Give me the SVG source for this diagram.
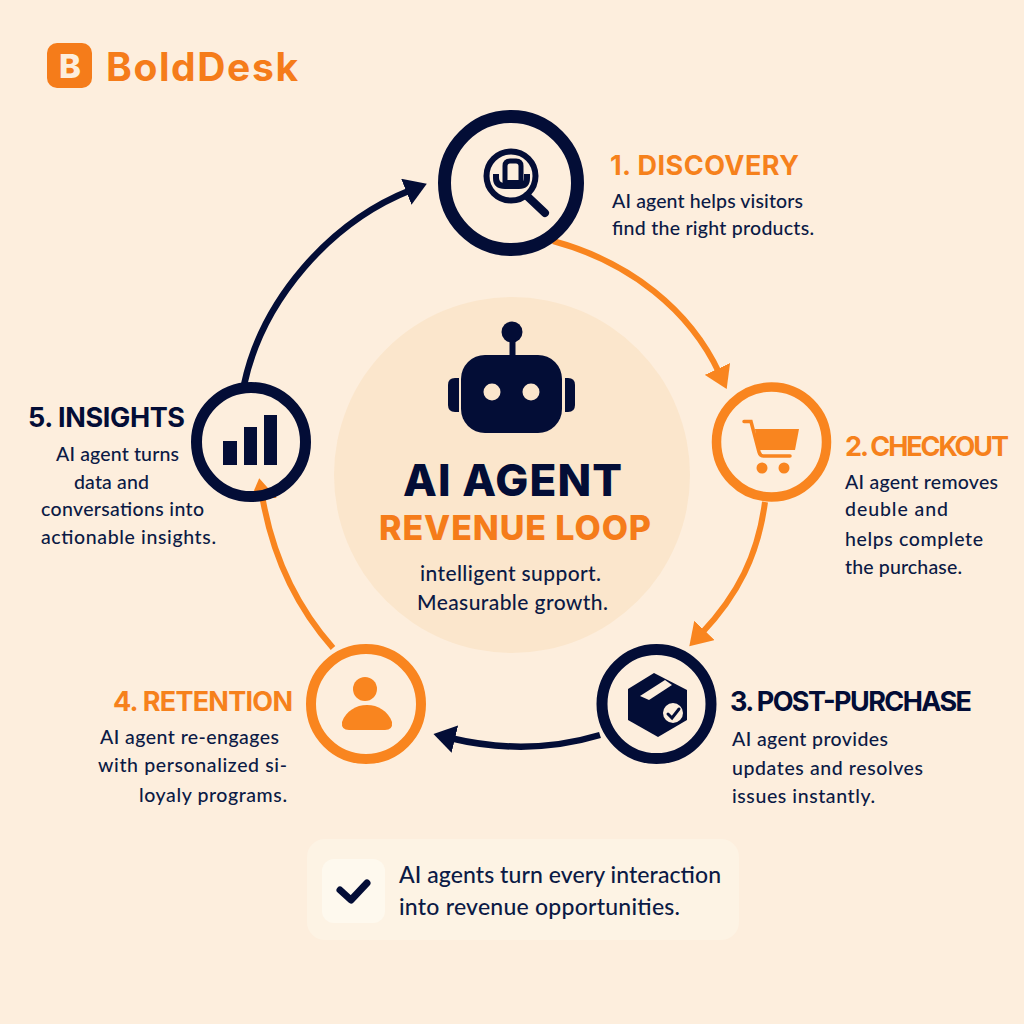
<svg xmlns="http://www.w3.org/2000/svg" width="1024" height="1024" viewBox="0 0 1024 1024">
<style>
text{font-family:"Lato","Noto Sans",sans-serif}
.n{fill:#030d36}.o{fill:#f9851f}.t{fill:#f6811c}
.rn{fill:none;stroke:#030d36}.ro{fill:none;stroke:#f9851f}
.d{font-family:"Inter","Noto Sans",sans-serif}
.h{font-family:"Inter","Noto Sans",sans-serif;font-size:27px;font-weight:700}
.b{font-size:19.5px;fill:#0b1a45;font-weight:500}
.c{font-size:21px;fill:#0b1a45;font-weight:500}
.ln{fill:none;stroke:#030d36;stroke-width:6.5;marker-end:url(#an)}
.lo{fill:none;stroke:#f9851f;stroke-width:6;marker-end:url(#ao)}
</style>
<defs>
<marker id="ao" markerUnits="userSpaceOnUse" markerWidth="24" markerHeight="28" refX="5" refY="14" orient="auto"><path d="M0 0L22 14L0 28Z" fill="#f9851f"/></marker>
<marker id="an" markerUnits="userSpaceOnUse" markerWidth="24" markerHeight="28" refX="5" refY="14" orient="auto"><path d="M0 0L22 14L0 28Z" fill="#030d36"/></marker>
</defs>
<rect width="1024" height="1024" fill="#fdeedd"/>
<g id="logo">
<rect x="47" y="43" width="45" height="45" rx="10" fill="#f57c1a"/>
<text class="d" x="70" y="78" font-size="33" font-weight="800" fill="#fdeedd" text-anchor="middle">B</text>
<text class="d" x="106" y="81" font-size="39" font-weight="700" fill="#f57c1a" textLength="192" lengthAdjust="spacing">BoldDesk</text>
</g>
<g id="connectors">
<path class="lo" d="M553 241C630 262 690 310 719.5 373.5"/>
<path class="lo" d="M765 502C758 555 738 595 701 634"/>
<path class="ln" d="M600 735C550 750 500 750 450 738"/>
<path class="lo" d="M333 648C295 605 272 555 262 495"/>
<path class="ln" d="M244 385C262 300 330 222 411 190"/>
</g>
<g id="center">
<circle cx="512" cy="475" r="178" fill="#fbe6cc"/>
<circle class="n" cx="512" cy="332" r="10.5"/>
<rect class="n" x="509.500" y="338" width="6" height="20"/>
<rect class="n" x="461" y="355" width="101" height="78" rx="24"/>
<path class="n" d="M459 378H455Q448 378 448 385V405Q448 412 455 412H459Z"/>
<path class="n" d="M565 378H568Q575 378 575 385V405Q575 412 568 412H565Z"/>
<circle cx="492" cy="392" r="8.500" fill="#fbe6cc"/>
<circle cx="531" cy="392" r="8.500" fill="#fbe6cc"/>
<text class="d n" x="403" y="496" font-size="44" font-weight="800" textLength="219" lengthAdjust="spacing">AI AGENT</text>
<text class="d" x="379" y="540" font-size="34" font-weight="800" fill="#f57c1a" textLength="272" lengthAdjust="spacing">REVENUE LOOP</text>
<text class="c" x="420" y="581" textLength="181" lengthAdjust="spacing">intelligent support.</text>
<text class="c" x="417" y="610" textLength="191" lengthAdjust="spacing">Measurable growth.</text>
</g>
<g id="node1">
<circle class="rn" cx="511" cy="183" r="66.500" stroke-width="13"/>
<circle class="rn" cx="511" cy="176" r="24.500" stroke-width="6"/>
<path class="rn" d="M527 196L545 213" stroke-width="8" stroke-linecap="round"/>
<path class="rn" d="M496 174V178Q496 186 505 186H519Q527 186 527 178V174" stroke-width="6"/>
<path class="rn" d="M505 184V166Q505 161 510 161H516Q521 161 521 166V184" stroke-width="5"/>
<rect class="n" x="503" y="180" width="20" height="6"/>
<text class="h t" x="610" y="175" textLength="189" lengthAdjust="spacing">1. DISCOVERY</text>
<text class="b" x="612" y="208" textLength="191" lengthAdjust="spacing">AI agent helps visitors</text>
<text class="b" x="612" y="235" textLength="202" lengthAdjust="spacing">find the right products.</text>
</g>
<g id="node2">
<circle class="ro" cx="771.500" cy="442" r="55" stroke-width="9.500"/>
<path class="o" d="M755 429H799L795 450H758Z"/>
<path class="ro" d="M744 421.500H751L759 452Q760 456 764 456H790" stroke-width="3.500" stroke-linecap="round"/>
<circle class="o" cx="762" cy="468" r="5.500"/>
<circle class="o" cx="784" cy="468" r="5.500"/>
<text class="h t" x="845" y="456" textLength="164" lengthAdjust="spacing">2. CHECKOUT</text>
<text class="b" x="845" y="489" textLength="153" lengthAdjust="spacing">AI agent removes</text>
<text class="b" x="845" y="516" textLength="103" lengthAdjust="spacing">deuble and</text>
<text class="b" x="845" y="546" textLength="138" lengthAdjust="spacing">helps complete</text>
<text class="b" x="845" y="574" textLength="117" lengthAdjust="spacing">the purchase.</text>
</g>
<g id="node3">
<circle class="rn" cx="656.500" cy="704" r="54.500" stroke-width="11"/>
<path class="n" d="M654 673L687 690V720L658 737L628 720V689Z"/>
<path d="M640 696L649 700L672 685L665 680Z" fill="#fdeedd"/>
<circle cx="673" cy="713" r="10" fill="#fdeedd"/>
<path class="rn" d="M668 714L672 718L679 709" stroke-width="3" stroke-linecap="round"/>
<text class="h n" x="730" y="711" textLength="242" lengthAdjust="spacing">3. POST-PURCHASE</text>
<text class="b" x="732" y="746" textLength="156" lengthAdjust="spacing">AI agent provides</text>
<text class="b" x="732" y="775" textLength="191" lengthAdjust="spacing">updates and resolves</text>
<text class="b" x="732" y="803" textLength="143" lengthAdjust="spacing">issues instantly.</text>
</g>
<g id="node4">
<circle class="ro" cx="366" cy="704" r="55" stroke-width="10"/>
<circle class="o" cx="365" cy="689" r="12"/>
<path class="o" d="M342 722C346 711 356 705 367 705C378 705 388 711 392 722Q393 730 385 730H349Q341 730 342 722Z"/>
<text class="h t" x="113" y="711" textLength="180" lengthAdjust="spacing">4. RETENTION</text>
<text class="b" x="100" y="744" textLength="179" lengthAdjust="spacing">AI agent re-engages</text>
<text class="b" x="98" y="772" textLength="189" lengthAdjust="spacing">with personalized si-</text>
<text class="b" x="139" y="802" textLength="148" lengthAdjust="spacing">loyaly programs.</text>
</g>
<g id="node5">
<circle class="rn" cx="251" cy="442" r="54.500" stroke-width="11"/>
<rect class="n" x="223" y="441" width="14" height="24"/>
<rect class="n" x="244" y="427" width="13" height="38"/>
<rect class="n" x="264" y="415" width="13" height="50"/>
<text class="h n" x="28" y="427" textLength="157" lengthAdjust="spacing">5. INSIGHTS</text>
<text class="b" x="56" y="461" textLength="123" lengthAdjust="spacing">AI agent turns</text>
<text class="b" x="74" y="489" textLength="75" lengthAdjust="spacing">data and</text>
<text class="b" x="41" y="516" textLength="163" lengthAdjust="spacing">conversations into</text>
<text class="b" x="41" y="544" textLength="175" lengthAdjust="spacing">actionable insights.</text>
</g>
<g id="callout">
<rect x="307" y="839" width="432" height="101" rx="18" fill="#fdf3e4"/>
<rect x="322" y="859" width="63" height="64" rx="12" fill="#fef9ee"/>
<path class="rn" d="M340 890L351 900L367 883" stroke-width="7" stroke-linecap="round" stroke-linejoin="round"/>
<text class="c" x="399" y="883" style="font-size:23px" textLength="322" lengthAdjust="spacing">AI agents turn every interaction</text>
<text class="c" x="399" y="915" style="font-size:23px" textLength="281" lengthAdjust="spacing">into revenue opportunities.</text>
</g>
</svg>
